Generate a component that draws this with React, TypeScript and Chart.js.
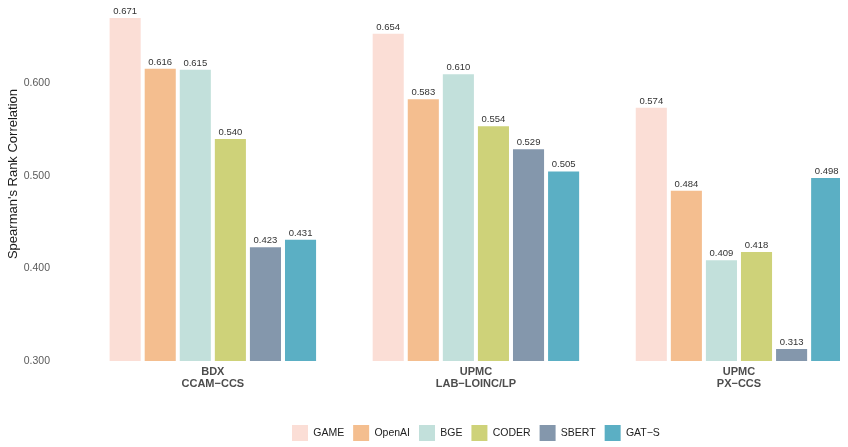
import React, { useEffect, useRef } from 'react';
import { Chart, registerables } from 'chart.js';

Chart.register(...registerables);

// Benchmarks (two-line axis labels) and their positions on the x axis
const groupLabels = [
  ['BDX', 'CCAM\u2212CCS'],
  ['UPMC', 'LAB\u2212LOINC/LP'],
  ['UPMC', 'PX\u2212CCS'],
];
const groupPositions = [1, 2, 3];

// Models
const seriesNames = ['GAME', 'OpenAI', 'BGE', 'CODER', 'SBERT', 'GAT\u2212S'];
const seriesColors = ['#FBDED6', '#F4BE8F', '#C2E0DB', '#CED279', '#8497AC', '#5BAFC4'];

// Spearman's rank correlation per benchmark
const gameValues = [0.671, 0.654, 0.574];
const openaiValues = [0.616, 0.583, 0.484];
const bgeValues = [0.615, 0.61, 0.409];
const coderValues = [0.54, 0.554, 0.418];
const sbertValues = [0.423, 0.529, 0.313];
const gatsValues = [0.431, 0.505, 0.498];

const yTickValues = [0.3, 0.4, 0.5, 0.6];
const yTitle = "Spearman's Rank Correlation";

const FONT = "'Liberation Sans', Arial, Helvetica, sans-serif";

// Writes each bar's value just above it
const valueLabels = {
  id: 'valueLabels',
  afterDatasetsDraw(chart: any) {
    const ctx = chart.ctx;
    ctx.save();
    ctx.font = `9.5px ${FONT}`;
    ctx.fillStyle = '#333333';
    ctx.textAlign = 'center';
    ctx.textBaseline = 'alphabetic';
    chart.data.datasets.forEach((ds: any, di: number) => {
      const meta = chart.getDatasetMeta(di);
      meta.data.forEach((bar: any, i: number) => {
        const v = ds.data[i].y as number;
        ctx.fillText(v.toFixed(3), bar.x, bar.y - 4);
      });
    });
    ctx.restore();
  },
};

// Rotated y-axis title beside the tick labels
const yAxisTitle = {
  id: 'yAxisTitle',
  afterDraw(chart: any) {
    const { ctx, chartArea } = chart;
    ctx.save();
    ctx.font = `13px ${FONT}`;
    ctx.fillStyle = '#1a1a1a';
    ctx.textAlign = 'center';
    ctx.textBaseline = 'middle';
    ctx.translate(13, (chartArea.top + chartArea.bottom) / 2 - 9);
    ctx.rotate(-Math.PI / 2);
    ctx.fillText(yTitle, 0, 0);
    ctx.restore();
  },
};

// Centre the legend under the middle benchmark group
const legendPlacement = {
  id: 'legendPlacement',
  afterLayout(chart: any) {
    const lg = chart.legend;
    const xs = chart.scales.x;
    if (!lg || !xs) return;
    const dx = xs.getPixelForValue(groupPositions[1]) - (lg.left + lg.right) / 2;
    lg.left += dx;
    lg.right += dx;
    lg.top += 4;
    lg.bottom += 4;
  },
};

export default function App() {
  const canvasRef = useRef<HTMLCanvasElement | null>(null);

  useEffect(() => {
    if (!canvasRef.current) return;
    const seriesValues = [gameValues, openaiValues, bgeValues, coderValues, sbertValues, gatsValues];

    const chart = new Chart(canvasRef.current, {
      type: 'bar',
      data: {
        datasets: seriesNames.map((name, si) => ({
          label: name,
          data: seriesValues[si].map((v, gi) => ({ x: groupPositions[gi], y: v })),
          backgroundColor: seriesColors[si],
          borderWidth: 0,
          base: yTickValues[0],
          categoryPercentage: 0.8,
          barPercentage: 0.886,
        })),
      },
      options: {
        animation: false,
        responsive: true,
        maintainAspectRatio: false,
        layout: { padding: { top: 5, right: 8, left: 0, bottom: 0 } },
        font: { family: FONT },
        plugins: {
          tooltip: { enabled: false },
          legend: {
            position: 'bottom',
            labels: {
              boxWidth: 16,
              boxHeight: 16,
              padding: 9,
              color: '#222222',
              font: { family: FONT, size: 10.5 },
            },
          },
        },
        scales: {
          x: {
            type: 'linear',
            offset: false,
            min: 0.4,
            max: 3.384,
            grid: { display: false, drawTicks: false, offset: false },
            border: { display: false },
            afterBuildTicks: (scale: any) => {
              scale.ticks = groupPositions.map((v) => ({ value: v }));
            },
            afterFit: (scale: any) => {
              scale.height = 51;
            },
            ticks: {
              padding: 5,
              color: '#4d4d4d',
              font: { family: FONT, size: 11, weight: 'bold', lineHeight: 1.06 },
              callback: (value: any) => {
                const i = groupPositions.indexOf(Number(value));
                return i >= 0 ? groupLabels[i] : '';
              },
            },
          },
          y: {
            min: 0.3,
            max: 0.685,
            grid: { display: false, drawTicks: false },
            border: { display: false },
            afterBuildTicks: (scale: any) => {
              scale.ticks = yTickValues.map((v) => ({ value: v }));
            },
            afterFit: (scale: any) => {
              scale.width = 55;
              scale.paddingTop = 0;
              scale.paddingBottom = 0;
            },
            ticks: {
              padding: 5,
              color: '#5a5a5a',
              font: { family: FONT, size: 10.5 },
              callback: (value: any) => Number(value).toFixed(3),
            },
          },
        },
      } as any,
      plugins: [valueLabels, yAxisTitle, legendPlacement],
    });

    return () => chart.destroy();
  }, []);

  return (
    <div style={{ position: 'absolute', left: 0, top: 0, width: 848, height: 447, background: '#ffffff' }}>
      <canvas ref={canvasRef} />
    </div>
  );
}
